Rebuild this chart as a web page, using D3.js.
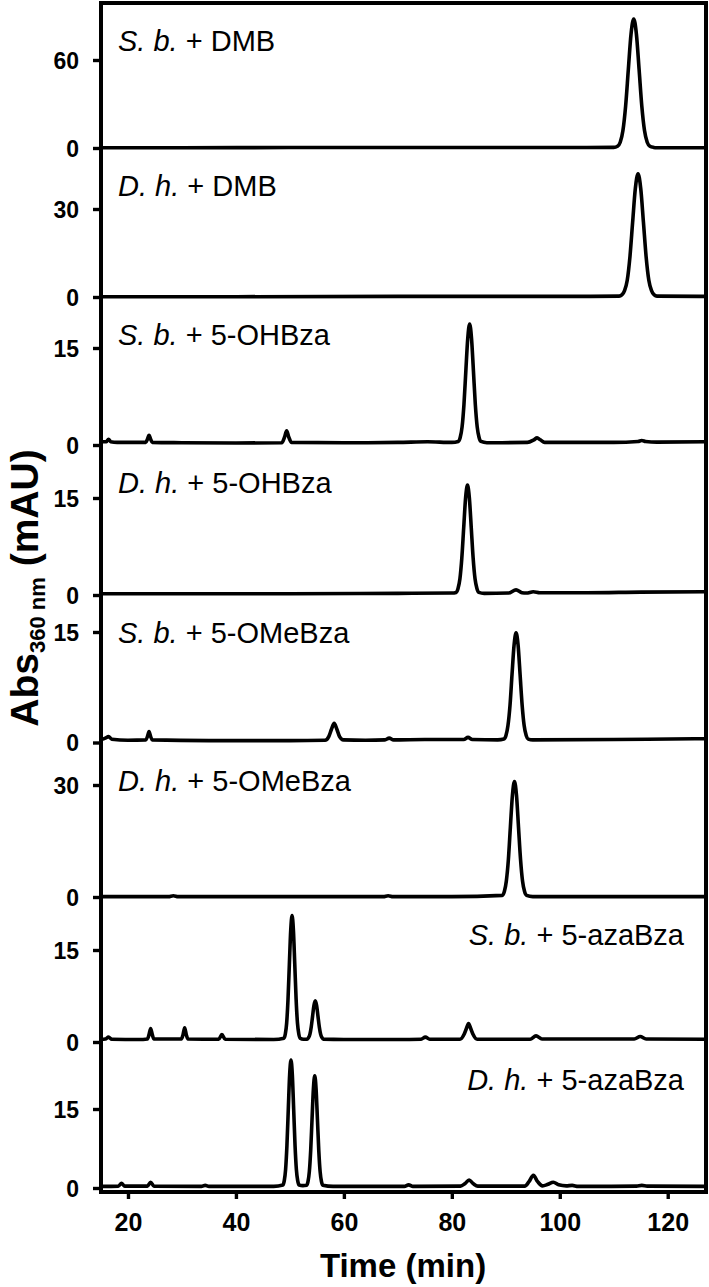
<!DOCTYPE html>
<html><head><meta charset="utf-8">
<script src="https://cdn.jsdelivr.net/npm/d3@7"></script>
<style>body{margin:0;background:#fff}svg{display:block}</style>
</head><body><svg id="c" width="709" height="1287"></svg>
<script>
// ---------- data ----------
const species   = ["S. b.", "D. h.", "S. b.", "D. h.", "S. b.", "D. h.", "S. b.", "D. h."];
const compounds = ["DMB", "DMB", "5-OHBza", "5-OHBza", "5-OMeBza", "5-OMeBza", "5-azaBza", "5-azaBza"];
const yTickValues = [60, 30, 15, 15, 15, 30, 15, 15];
const xTickValues = [20, 40, 60, 80, 100, 120];
const xDomain = [15, 127];

const sbDMB = [[15,0.2],[30,0.2],[50,0.3],[70,0.3],[90,0.3],[105,0.3],[110,0.4],[110.7,1.2],[111.2,3.9],[111.7,11.9],[112.2,28.6],[112.7,53.4],[113.2,77.6],[113.7,88],[114.2,77.6],[114.7,53.4],[115.2,28.6],[115.7,11.9],[116.2,3.9],[116.7,1.2],[117.4,0.4],[118,0.2],[127,0.2]];
const dhDMB = [[15,0.1],[40,0.1],[70,0.2],[100,0.2],[111,0.3],[111.5,0.7],[112,2.2],[112.5,5.7],[113,13.7],[113.5,25.5],[114,37],[114.5,42],[115,37],[115.5,25.5],[116,13.7],[116.5,5.7],[117,2.2],[117.5,0.7],[118,0.3],[127,0.2]];
const sbOHBza = [[15,0.5],[16,0.5],[16.4,0.9],[16.8,0.5],[18,0.4],[23.3,0.4],[23.6,0.9],[23.9,1.5],[24.2,0.9],[24.5,0.4],[30,0.35],[40,0.3],[48.5,0.35],[49,1.2],[49.4,2.2],[49.8,1.2],[50.3,0.4],[60,0.35],[70,0.4],[75.5,0.5],[80,0.4],[81.2,0.55],[81.55,1.15],[81.9,2.8],[82.25,6.3],[82.6,11.5],[82.95,16.5],[83.3,18.7],[83.65,16.5],[84.0,11.5],[84.35,6.3],[84.7,2.8],[85.05,1.15],[85.4,0.55],[86.5,0.35],[94,0.4],[95.2,0.8],[95.8,1.1],[96.4,0.8],[97.2,0.4],[110,0.4],[114.5,0.55],[115.2,0.7],[115.9,0.55],[118,0.45],[127,0.5]];
const dhOHBza = [[15,0.2],[30,0.2],[50,0.2],[70,0.25],[80,0.3],[80.8,0.4],[81.15,1.0],[81.5,2.5],[81.85,5.7],[82.2,10.4],[82.55,15.0],[82.9,17.0],[83.25,15.0],[83.6,10.4],[83.95,5.7],[84.3,2.5],[84.65,1.0],[85.0,0.4],[86,0.25],[90.5,0.3],[91.9,0.8],[93,0.35],[93.8,0.3],[95.1,0.5],[96.3,0.35],[105,0.35],[115,0.45],[127,0.5]];
const sbOMeBza = [[15,0.4],[15.8,0.6],[16.4,0.8],[17,0.45],[20,0.3],[23.3,0.35],[23.6,0.8],[23.9,1.5],[24.2,0.8],[24.5,0.35],[35,0.25],[50,0.25],[56.5,0.3],[57.2,0.8],[57.7,1.8],[58.2,2.6],[58.7,1.8],[59.2,0.8],[59.9,0.35],[64,0.3],[67.6,0.35],[68.4,0.6],[69.2,0.35],[75,0.4],[82.2,0.4],[83,0.7],[83.8,0.4],[88.5,0.35],[89.65,0.46],[90.03,0.94],[90.4,2.3],[90.78,5.05],[91.15,9.2],[91.53,13.2],[91.9,14.9],[92.28,13.2],[92.65,9.2],[93.03,5.05],[93.4,2.3],[93.78,0.94],[94.15,0.46],[95,0.35],[110,0.4],[125,0.5],[127,0.5]];
const dhOMeBza = [[15,0.1],[27.5,0.1],[28.4,0.35],[29.3,0.1],[50,0.1],[67.3,0.1],[68.2,0.35],[69.1,0.1],[80,0.1],[89.35,0.44],[89.73,1.45],[90.1,4.3],[90.48,10.1],[90.85,18.8],[91.23,27.3],[91.6,30.9],[91.98,27.3],[92.35,18.8],[92.73,10.1],[93.1,4.3],[93.48,1.45],[93.85,0.44],[95,0.1],[127,0.1]];
const sbAzaBza = [[15,0.45],[15.8,0.5],[16.4,0.8],[17,0.45],[22,0.4],[23.6,0.5],[23.9,1.2],[24.2,2.2],[24.5,1.2],[24.8,0.5],[29.9,0.5],[30.2,1.2],[30.5,2.3],[30.8,1.2],[31.1,0.5],[36.8,0.45],[37.4,1.2],[38,0.45],[47,0.4],[48.9,0.62],[49.15,1.3],[49.4,3.1],[49.65,7.0],[49.9,12.7],[50.15,18.2],[50.4,20.6],[50.65,18.2],[50.9,12.7],[51.15,7.0],[51.4,3.1],[51.65,1.3],[51.9,0.62],[52.5,0.45],[53.2,0.47],[53.45,0.7],[53.7,1.25],[53.95,2.45],[54.2,4.2],[54.45,5.96],[54.7,6.7],[54.95,5.96],[55.2,4.2],[55.45,2.45],[55.7,1.25],[55.95,0.7],[56.2,0.47],[60,0.4],[70,0.4],[74.3,0.45],[75.1,0.8],[75.9,0.45],[81.5,0.45],[82.3,1.3],[82.7,2.2],[83.1,3.0],[83.5,2.2],[83.9,1.3],[84.7,0.45],[94.5,0.45],[95.6,1.0],[96.7,0.5],[113.8,0.5],[114.9,0.9],[116,0.5],[127,0.45]];
const dhAzaBza = [[15,0.3],[18.2,0.35],[18.8,0.9],[19.4,0.35],[23.6,0.35],[24.2,1.1],[24.8,0.35],[33.6,0.3],[34.3,0.5],[35,0.3],[47,0.3],[48.7,0.56],[48.95,1.35],[49.2,3.5],[49.45,8.1],[49.7,14.9],[49.95,21.5],[50.2,24.3],[50.45,21.5],[50.7,14.9],[50.95,8.1],[51.2,3.5],[51.45,1.35],[51.7,0.56],[52.4,0.45],[53.1,0.53],[53.35,1.2],[53.6,3.1],[53.85,7.1],[54.1,13.05],[54.35,18.8],[54.6,21.3],[54.85,18.8],[55.1,13.05],[55.35,7.1],[55.6,3.1],[55.85,1.2],[56.1,0.53],[58,0.3],[65,0.3],[71.2,0.3],[72,0.6],[72.8,0.3],[81.6,0.35],[82.4,0.8],[83.2,1.5],[84,0.8],[84.8,0.35],[93.5,0.35],[94.3,1.2],[95.1,2.4],[95.9,1.2],[96.8,0.4],[97.8,0.7],[98.8,1.1],[99.8,0.6],[101.2,0.4],[102.3,0.5],[103.4,0.3],[114.2,0.35],[115.2,0.5],[116.2,0.35],[127,0.3]];
const traces = [sbDMB, dhDMB, sbOHBza, dhOHBza, sbOMeBza, dhOMeBza, sbAzaBza, dhAzaBza];

// ---------- layout ----------
const FONT = "'Liberation Sans', Arial, Helvetica, sans-serif";
const plotLeft = 101, plotRight = 706, plotTop = 3, plotBottom = 1192;
const zeroY = [148, 297, 445, 595, 742.5, 897, 1042, 1188];
const tickY = [60, 209, 348, 498, 632, 785, 950, 1109];
const panelTop = [3, 148, 297, 445, 595, 742.5, 897, 1042];
const labelRight = [false, false, false, false, false, false, true, true];

const svg = d3.select("#c");
const x = d3.scaleLinear().domain(xDomain).range([plotLeft, 705.5]);

const line = d3.line().curve(d3.curveMonotoneX);

traces.forEach((data, i) => {
  const y = d3.scaleLinear().domain([0, yTickValues[i]]).range([zeroY[i], tickY[i]]);
  const g = svg.append("g");
  g.append("path")
    .attr("d", line.x(d => x(d[0])).y(d => y(d[1]))(data))
    .attr("fill", "none").attr("stroke", "#000")
    .attr("stroke-width", 3.6).attr("stroke-linejoin", "round");

  const ax = g.append("g").attr("transform", `translate(${plotLeft},0)`)
    .call(d3.axisLeft(y).tickValues([0, yTickValues[i]]).tickSize(8).tickSizeOuter(0).tickPadding(14));
  ax.select(".domain").remove();
  ax.selectAll(".tick line").attr("stroke", "#000").attr("stroke-width", 3.4);
  ax.selectAll(".tick text").attr("font-family", FONT).attr("font-weight", "bold")
    .attr("font-size", 23).attr("fill", "#000").attr("dy", "0.36em");

  const t = g.append("text")
    .attr("x", labelRight[i] ? 684 : 118)
    .attr("y", panelTop[i] + 48)
    .attr("text-anchor", labelRight[i] ? "end" : "start")
    .attr("font-family", FONT).attr("font-size", 29).attr("fill", "#000");
  t.append("tspan").attr("font-style", "italic").text(species[i]);
  t.append("tspan").text(" + " + compounds[i]);
});

// frame
svg.append("path")
  .attr("d", `M${plotLeft},${plotTop}H${plotRight}V${plotBottom}H${plotLeft}Z`)
  .attr("fill", "none").attr("stroke", "#000").attr("stroke-width", 4);

// x axis
const xa = svg.append("g").attr("transform", `translate(0,${plotBottom})`)
  .call(d3.axisBottom(x).tickValues(xTickValues).tickSize(7).tickSizeOuter(0).tickPadding(14));
xa.select(".domain").remove();
xa.selectAll(".tick line").attr("stroke", "#000").attr("stroke-width", 3.4);
xa.selectAll(".tick text").attr("font-family", FONT).attr("font-weight", "bold")
  .attr("font-size", 25).attr("fill", "#000");

svg.append("text")
  .attr("x", 403).attr("y", 1277)
  .attr("text-anchor", "middle")
  .attr("font-family", FONT).attr("font-weight", "bold").attr("font-size", 33)
  .text("Time (min)");

const yl = svg.append("text")
  .attr("transform", "translate(38,588) rotate(-90)")
  .attr("text-anchor", "middle")
  .attr("font-family", FONT).attr("font-weight", "bold").attr("font-size", 39);
yl.append("tspan").text("Abs");
yl.append("tspan").attr("font-size", 22).attr("dy", 7).text("360 nm");
yl.append("tspan").attr("dy", -7).text(" (mAU)");
</script></body></html>
